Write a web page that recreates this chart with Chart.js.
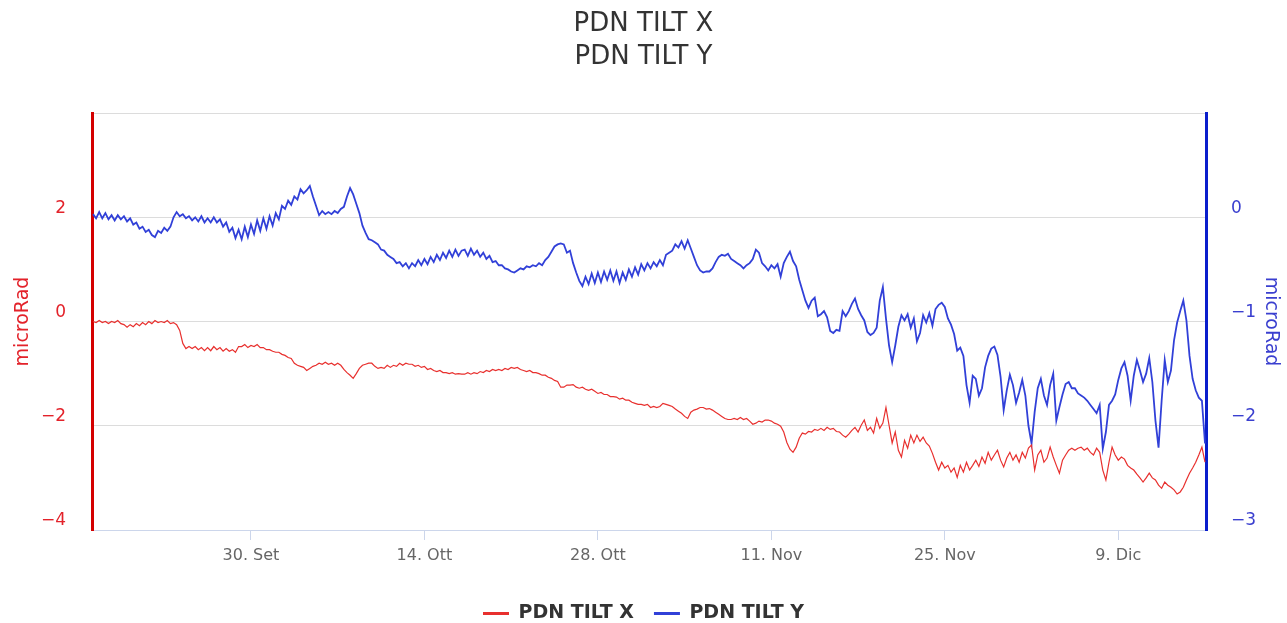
<!DOCTYPE html>
<html>
<head>
<meta charset="utf-8">
<title>PDN TILT</title>
<script src="https://cdn.jsdelivr.net/npm/chart.js@4.4.1/dist/chart.umd.min.js"></script>
<style>
  html, body { margin: 0; padding: 0; background: #fff; }
  canvas { display: block; }
</style>
</head>
<body>
<canvas id="tiltChart" width="1287" height="623"></canvas>
<script type="text/javascript">
  // one sample every 6 hours; x is in days counted from 17 Sep 00:00
  var firstDay = 0.25;
  var stepDays = 0.25;

  var tickDays = [13, 27, 41, 55, 69, 83];
  var tickLabels = ["30. Set", "14. Ott", "28. Ott", "11. Nov", "25. Nov", "9. Dic"];

  // PDN TILT X, microRad (left axis)
  var tiltX = [
    0.00,-0.02,0.02,-0.02,0.00,-0.04,0.00,-0.02,0.02,-0.04,
    -0.06,-0.11,-0.06,-0.10,-0.04,-0.08,-0.02,-0.06,0.00,-0.04,
    0.02,-0.02,0.00,-0.02,0.02,-0.04,-0.02,-0.06,-0.17,-0.42,
    -0.52,-0.48,-0.52,-0.48,-0.54,-0.50,-0.56,-0.50,-0.56,-0.48,
    -0.54,-0.50,-0.57,-0.52,-0.57,-0.54,-0.59,-0.48,-0.48,-0.44,
    -0.50,-0.46,-0.48,-0.44,-0.50,-0.50,-0.54,-0.54,-0.57,-0.59,
    -0.59,-0.63,-0.65,-0.69,-0.71,-0.80,-0.84,-0.86,-0.88,
    -0.94,-0.90,-0.86,-0.84,-0.80,-0.82,-0.78,-0.82,-0.80,-0.84,
    -0.80,-0.84,-0.92,-0.98,-1.03,-1.09,-1.00,-0.90,-0.84,-0.82,
    -0.80,-0.80,-0.86,-0.90,-0.88,-0.90,-0.84,-0.88,-0.84,
    -0.86,-0.80,-0.84,-0.80,-0.82,-0.82,-0.86,-0.84,-0.88,
    -0.86,-0.92,-0.90,-0.94,-0.96,-0.94,-0.98,-0.98,-1.00,
    -0.98,-1.01,-1.00,-1.01,
    -1.01,-0.98,-1.01,-0.98,-1.00,-0.96,-0.98,-0.94,-0.96,-0.92,
    -0.94,-0.92,-0.94,-0.90,-0.92,-0.88,-0.90,-0.88,-0.92,
    -0.94,-0.96,-0.94,-0.98,-0.98,-1.00,-1.03,-1.03,-1.07,-1.09,
    -1.13,-1.15,-1.26,-1.26,-1.22,-1.22,-1.21,-1.26,-1.28,-1.26,
    -1.30,-1.32,-1.30,-1.34,-1.38,-1.36,-1.40,-1.40,-1.44,
    -1.44,-1.45,-1.49,-1.47,-1.51,-1.51,-1.55,-1.57,-1.59,-1.59,
    -1.61,-1.59,-1.65,-1.63,-1.65,-1.63,-1.57,-1.59,-1.61,-1.63,
    -1.68,-1.72,-1.76,-1.82,-1.86,-1.74,-1.70,-1.68,-1.65,-1.65,
    -1.68,-1.67,-1.70,-1.74,-1.78,-1.82,-1.86,-1.88,-1.88,
    -1.86,-1.88,-1.84,-1.88,-1.86,-1.91,-1.97,-1.95,-1.91,
    -1.93,-1.89,-1.89,-1.91,-1.95,-1.97,-2.01,-2.12,-2.32,-2.45,
    -2.51,-2.41,-2.24,-2.14,-2.16,-2.11,-2.12,-2.07,-2.09,-2.05,
    -2.09,-2.03,-2.07,-2.05,-2.11,
    -2.12,-2.18,-2.22,-2.16,-2.09,-2.03,-2.12,-1.99,-1.89,-2.09,
    -2.03,-2.14,-1.86,-2.05,-1.95,-1.65,-1.99,-2.33,-2.12,-2.47,
    -2.60,-2.28,-2.43,-2.18,-2.33,-2.18,-2.30,-2.22,-2.33,-2.39,
    -2.53,-2.70,-2.85,-2.70,-2.81,-2.76,-2.89,-2.81,-2.99,-2.76,
    -2.89,-2.70,-2.85,-2.76,-2.66,-2.78,-2.60,-2.72,-2.51,-2.66,
    -2.56,-2.47,-2.66,-2.79,-2.62,-2.51,-2.66,-2.56,-2.70,-2.51,
    -2.62,-2.43,-2.37,-2.85,-2.56,-2.47,-2.70,-2.62,-2.41,-2.60,
    -2.76,-2.91,-2.66,-2.56,-2.47,-2.43,-2.47,-2.43,-2.41,-2.47,
    -2.43,-2.51,-2.56,-2.43,-2.51,-2.85,-3.04,-2.70,-2.41,-2.56,
    -2.66,-2.60,-2.64,-2.76,-2.81,-2.85,-2.93,-3.00,-3.08,-3.00,
    -2.91,-3.00,-3.04,-3.14,-3.20,-3.08,-3.14,-3.18,-3.23,-3.31,
    -3.27,-3.18,-3.04,-2.91,-2.81,-2.70,-2.56,-2.41,-2.70
  ];

  // PDN TILT Y, microRad (right axis)
  var tiltY = [
    0.03,-0.01,0.05,-0.01,0.04,-0.02,0.02,-0.03,0.02,-0.02,
    0.01,-0.04,-0.01,-0.07,-0.05,-0.11,-0.09,-0.14,-0.12,-0.17,
    -0.19,-0.13,-0.15,-0.10,-0.13,-0.09,0.00,0.05,0.01,
    0.03,-0.01,0.01,-0.03,0.00,-0.04,0.01,-0.05,-0.01,-0.05,
    0.00,-0.05,-0.02,-0.09,-0.05,-0.14,-0.10,-0.20,-0.12,-0.21,
    -0.09,-0.19,-0.07,-0.16,-0.03,-0.13,-0.01,-0.11,0.01,-0.08,
    0.04,-0.02,0.11,0.08,0.16,0.12,0.20,0.17,0.27,0.23,
    0.26,0.30,0.20,0.11,0.02,0.06,0.03,0.05,0.03,0.06,
    0.04,0.08,0.10,0.20,0.28,0.22,0.13,0.04,-0.08,
    -0.15,-0.21,-0.22,-0.24,-0.26,-0.31,-0.32,-0.36,
    -0.38,-0.40,-0.44,-0.43,-0.47,-0.44,-0.49,-0.44,-0.47,-0.41,
    -0.46,-0.40,-0.45,-0.38,-0.43,-0.36,-0.41,-0.34,-0.39,-0.32,
    -0.38,-0.31,-0.37,-0.32,
    -0.31,-0.37,-0.30,-0.36,-0.32,-0.38,-0.34,-0.40,-0.37,-0.43,
    -0.42,-0.46,-0.46,-0.49,-0.50,-0.52,-0.53,-0.51,-0.49,
    -0.50,-0.47,-0.48,-0.46,-0.47,-0.44,-0.46,-0.41,-0.38,-0.33,
    -0.28,-0.26,-0.25,-0.26,-0.34,-0.32,-0.44,-0.53,-0.61,
    -0.66,-0.57,-0.64,-0.54,-0.63,-0.53,-0.62,-0.52,-0.60,-0.51,
    -0.61,-0.52,-0.63,-0.53,-0.60,-0.50,-0.57,-0.48,-0.55,-0.45,
    -0.51,-0.44,-0.49,-0.43,-0.47,-0.41,-0.46,-0.36,-0.34,-0.32,
    -0.26,-0.29,-0.23,-0.30,-0.22,-0.30,-0.38,-0.46,-0.51,-0.53,
    -0.52,-0.52,-0.49,-0.43,-0.38,-0.36,-0.37,-0.35,-0.40,
    -0.42,-0.44,-0.46,-0.49,-0.46,-0.44,-0.40,-0.31,-0.34,
    -0.44,-0.47,-0.51,-0.46,-0.49,-0.45,-0.57,-0.44,-0.38,-0.33,
    -0.42,-0.47,-0.60,-0.70,-0.80,-0.87,-0.80,-0.77,-0.95,
    -0.93,-0.90,-0.96,-1.09,-1.11,-1.08,
    -1.09,-0.90,-0.95,-0.90,-0.83,-0.78,-0.88,-0.94,-0.99,-1.10,
    -1.13,-1.11,-1.06,-0.80,-0.67,-0.97,-1.23,-1.39,-1.23,-1.05,
    -0.94,-0.99,-0.93,-1.06,-0.97,-1.19,-1.11,-0.94,-1.01,-0.92,
    -1.04,-0.88,-0.84,-0.82,-0.86,-0.97,-1.03,-1.12,-1.28,-1.25,
    -1.33,-1.61,-1.78,-1.52,-1.55,-1.71,-1.64,-1.44,-1.33,-1.26,
    -1.24,-1.32,-1.53,-1.85,-1.66,-1.51,-1.61,-1.78,-1.68,-1.56,
    -1.71,-2.00,-2.17,-1.87,-1.64,-1.55,-1.71,-1.80,-1.61,-1.50,
    -1.95,-1.82,-1.70,-1.60,-1.58,-1.64,-1.64,-1.69,-1.71,-1.73,
    -1.76,-1.80,-1.84,-1.88,-1.80,-2.22,-2.06,-1.80,-1.76,-1.70,
    -1.56,-1.45,-1.39,-1.52,-1.76,-1.52,-1.37,-1.47,-1.58,-1.50,
    -1.35,-1.58,-1.95,-2.21,-1.76,-1.37,-1.58,-1.47,-1.18,-1.01,
    -0.90,-0.80,-0.99,-1.33,-1.55,-1.66,-1.73,-1.76,-2.17
  ];

  var redColor = "#e8302e";
  var blueColor = "#3140d8";

  function toPoints(values) {
    return values.map(function (v, i) {
      return { x: firstDay + i * stepDays, y: v };
    });
  }

  Chart.defaults.font.family = "'DejaVu Sans', sans-serif";

  var chart = new Chart("tiltChart", {
    type: "line",
    data: {
      datasets: [
        {
          label: "PDN TILT X",
          data: toPoints(tiltX),
          borderColor: redColor,
          backgroundColor: redColor,
          borderWidth: 1.2,
          pointRadius: 0,
          fill: false,
          yAxisID: "yX"
        },
        {
          label: "PDN TILT Y",
          data: toPoints(tiltY),
          borderColor: blueColor,
          backgroundColor: blueColor,
          borderWidth: 1.8,
          pointRadius: 0,
          fill: false,
          yAxisID: "yY"
        }
      ]
    },
    options: {
      responsive: false,
      animation: false,
      layout: { padding: { left: 0, right: 0, top: 0, bottom: -10 } },
      plugins: {
        title: {
          display: true,
          text: ["PDN TILT X", "PDN TILT Y"],
          color: "#333333",
          font: { size: 26, weight: "normal", lineHeight: 1.27 },
          padding: { top: 8, bottom: 39 }
        },
        legend: {
          display: true,
          position: "bottom",
          labels: {
            usePointStyle: true,
            pointStyle: "line",
            pointStyleWidth: 26,
            color: "#333333",
            font: { size: 19, weight: "bold" },
            padding: 20,
            generateLabels: function (c) {
              var items = Chart.defaults.plugins.legend.labels.generateLabels(c);
              items.forEach(function (it) { it.lineWidth = 3; });
              return items;
            }
          }
        },
        tooltip: { enabled: false }
      },
      scales: {
        x: {
          type: "linear",
          min: 0.17,
          max: 90.08,
          afterBuildTicks: function (axis) {
            axis.ticks = tickDays.map(function (d) { return { value: d }; });
          },
          afterFit: function (scale) { scale.height = 54; },
          ticks: {
            autoSkip: false,
            maxRotation: 0,
            padding: 6,
            color: "#666666",
            font: { size: 16 },
            callback: function (value) {
              return tickLabels[tickDays.indexOf(value)];
            }
          },
          grid: {
            drawOnChartArea: false,
            drawTicks: true,
            tickLength: 10,
            tickColor: "#ccd6eb",
            color: "#ccd6eb"
          },
          border: { display: true, color: "#ccd6eb", width: 1 }
        },
        yX: {
          type: "linear",
          position: "left",
          min: -4,
          max: 4,
          afterFit: function (scale) { scale.width = 92; },
          ticks: {
            stepSize: 2,
            padding: 26,
            labelOffset: -9,
            color: "#e3222a",
            font: { size: 17 },
            callback: function (value) {
              return value === 4 ? "" : (value < 0 ? "\u2212" + Math.abs(value) : String(value));
            }
          },
          grid: { color: "#dcdcdc", drawTicks: false },
          border: { display: true, color: "#d40000", width: 3 },
          title: {
            display: true,
            text: "microRad",
            color: "#e3222a",
            font: { size: 19 },
            padding: { top: 12, bottom: 0 }
          }
        },
        yY: {
          type: "linear",
          position: "right",
          min: -3,
          max: 1,
          afterFit: function (scale) { scale.width = 81; },
          ticks: {
            stepSize: 1,
            padding: 25,
            labelOffset: -9,
            color: "#3a3fcf",
            font: { size: 17 },
            callback: function (value) {
              return value === 1 ? "" : (value < 0 ? "\u2212" + Math.abs(value) : String(value));
            }
          },
          grid: { drawOnChartArea: false, drawTicks: false },
          border: { display: true, color: "#0a1ecc", width: 3 },
          title: {
            display: true,
            text: "microRad",
            color: "#3a3fcf",
            font: { size: 19 },
            padding: { top: 5, bottom: 0 }
          }
        }
      }
    }
  });
</script>
</body>
</html>
